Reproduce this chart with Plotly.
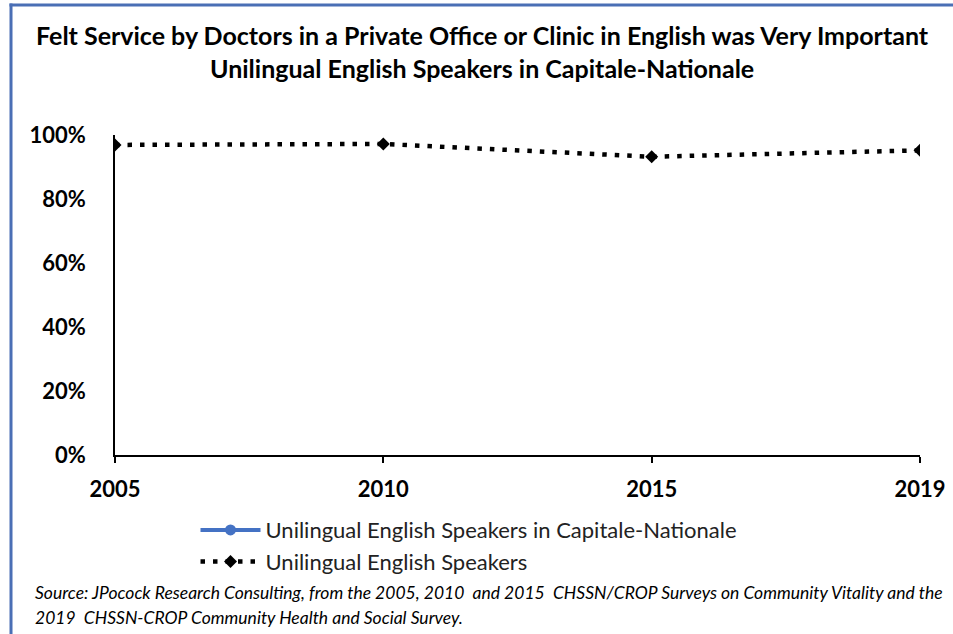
import plotly.graph_objects as go

years = ["2005", "2010", "2015", "2019"]
capitale_nationale = [None, None, None, None]
unilingual_english = [0.969, 0.972, 0.932, 0.952]
y_ticks = [0, 0.2, 0.4, 0.6, 0.8, 1.0]
y_tick_labels = ["0%", "20%", "40%", "60%", "80%", "100%"]

title_lines = [
    "Felt Service by Doctors in a Private Office or Clinic in English was Very Important",
    "Unilingual English Speakers in Capitale-Nationale",
]
source_lines = [
    "Source: JPocock Research Consulting, from the 2005, 2010  and 2015  CHSSN/CROP Surveys on Community Vitality and the",
    "2019  CHSSN-CROP Community Health and Social Survey.",
]

FONT = "Lato"
fig = go.Figure()
fig.add_trace(go.Scatter(
    x=years, y=capitale_nationale, name="Unilingual English Speakers in Capitale-Nationale",
    mode="lines+markers", line=dict(color="#4472C4", width=4),
    marker=dict(symbol="circle", size=11, color="#4472C4"),
))
fig.add_trace(go.Scatter(
    x=years, y=unilingual_english, name="Unilingual English Speakers",
    mode="lines+markers", line=dict(color="black", width=4.5, dash="4.5px,8px"),
    marker=dict(symbol="diamond", size=10, color="black"),
))

fig.update_layout(
    width=953, height=634, autosize=False,
    margin=dict(l=115, r=33, t=135, b=179, autoexpand=False),
    paper_bgcolor="white", plot_bgcolor="white",
    font=dict(family=FONT, color="black"),
    showlegend=True,
    legend=dict(x=0.1, y=-0.169, xanchor="left", yanchor="top",
                font=dict(size=22, color="#222"), tracegroupgap=0,
                itemwidth=60, bgcolor="rgba(0,0,0,0)"),
    xaxis=dict(type="category", range=[0, 3], showline=True, linecolor="black",
               linewidth=2, ticks="outside", ticklen=6, tickwidth=2, tickcolor="black",
               showgrid=False, zeroline=False, automargin=False,
               tickfont=dict(size=22, family=FONT, color="black", weight="bold"),
               ticklabelstandoff=8),
    yaxis=dict(range=[0, 1], tickvals=y_ticks, ticktext=y_tick_labels, showline=True,
               linecolor="black", linewidth=1.5, ticks="", showgrid=False, zeroline=False,
               automargin=False,
               tickfont=dict(size=22, family=FONT, color="black", weight="bold"),
               ticklabelstandoff=23),
)

for i, line in enumerate(title_lines):
    fig.add_annotation(text="<b>" + line + "</b>", xref="paper", yref="paper",
                       x=(482 - 115) / 805, y=1 + (135 - (35 + 33 * i)) / 320,
                       xanchor="center", yanchor="middle", showarrow=False,
                       font=dict(size=25, family=FONT, color="black"))
for i, line in enumerate(source_lines):
    fig.add_annotation(text="<i>" + line + "</i>", xref="paper", yref="paper",
                       x=(33 - 115) / 805, y=-(592 + 25 * i - 455) / 320,
                       xanchor="left", yanchor="middle", showarrow=False,
                       font=dict(size=17.5, family=FONT, color="black"))

# frame (left and top borders) as filled strips
fig.add_shape(type="rect", xref="paper", yref="paper",
              x0=(9.5 - 115) / 805, x1=(12.5 - 115) / 805, y0=(455 - 660) / 320, y1=(455 - 3.5) / 320,
              line=dict(width=0), fillcolor="#4A6FB5", layer="above")
fig.add_shape(type="rect", xref="paper", yref="paper",
              x0=(9.5 - 115) / 805, x1=(960 - 115) / 805, y0=(455 - 6.5) / 320, y1=(455 - 3.5) / 320,
              line=dict(width=0), fillcolor="#4A6FB5", layer="above")

fig.write_html("out.html", config={"displayModeBar": False, "responsive": False},
               post_script="document.body.style.margin='0';document.body.style.overflow='hidden';")
